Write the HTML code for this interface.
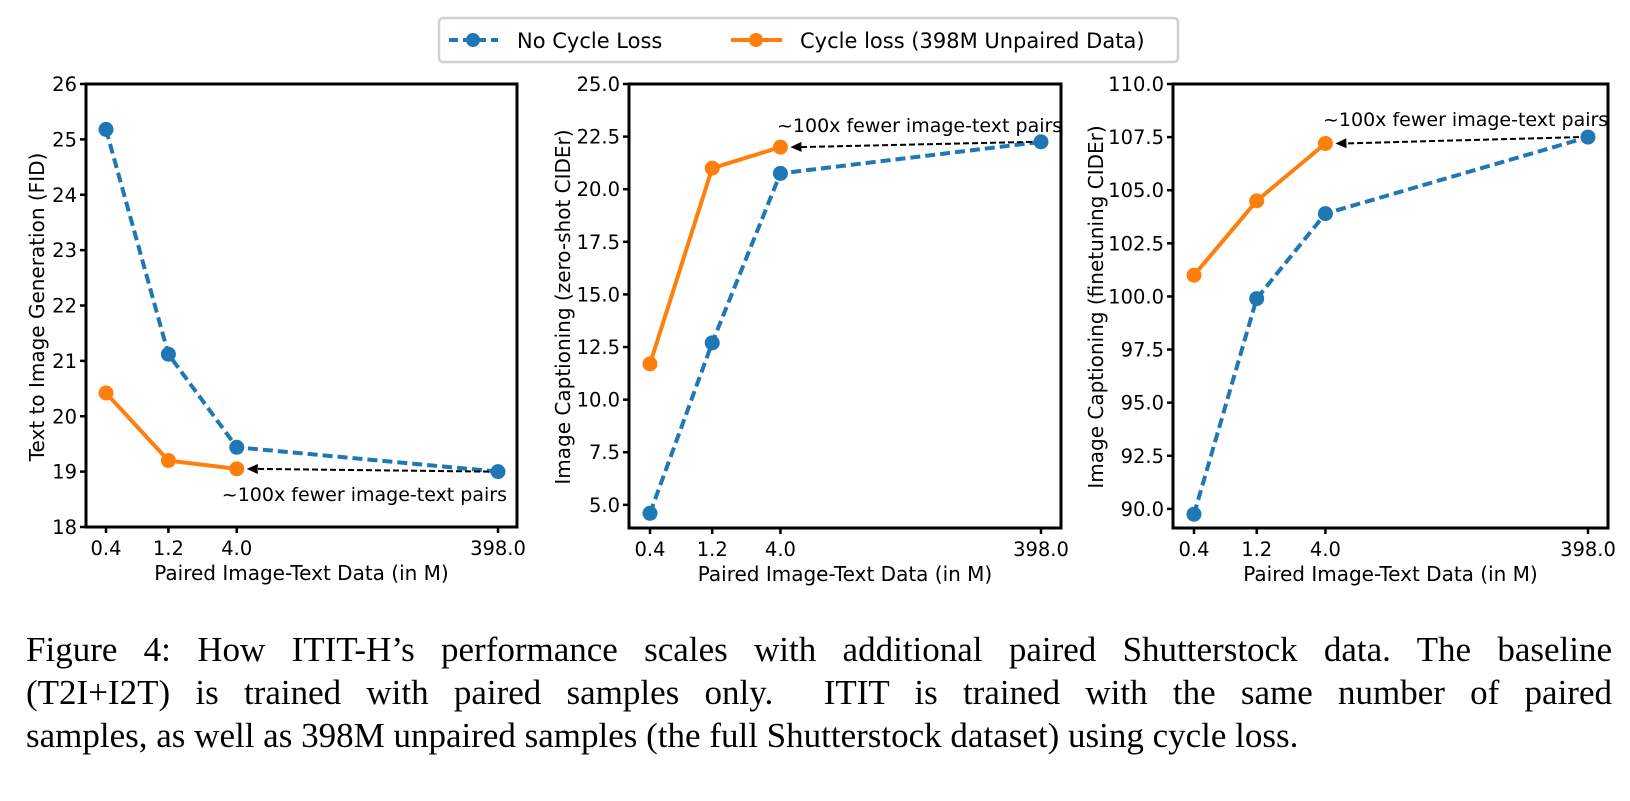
<!DOCTYPE html>
<html><head><meta charset="utf-8">
<style>
html,body{margin:0;padding:0;background:#fff;}
body{width:1630px;height:801px;overflow:hidden;position:relative;}
svg{position:absolute;left:0;top:0;}
.cap{position:absolute;left:26px;width:1586px;font-family:"Liberation Serif",serif;font-size:35px;line-height:43px;color:#000;top:628px;}
.cap div{text-align:justify;text-align-last:justify;white-space:nowrap;}
.cap div.last{text-align-last:left;}
</style></head>
<body>
<svg id="fig" width="1630" height="801" font-family="DejaVu Sans, Liberation Sans, sans-serif">
  <g>
    <rect x="439" y="18" width="739" height="44" rx="4" fill="#fff" stroke="#d0d0d0" stroke-width="2.5"/>
    <line x1="449" y1="40" x2="498" y2="40" stroke="#1f77b4" stroke-width="4" stroke-dasharray="9,5"/>
    <circle cx="473" cy="40" r="7" fill="#1f77b4"/>
    <text x="517" y="48" font-size="21">No Cycle Loss</text>
    <line x1="731" y1="40" x2="782" y2="40" stroke="#ff7f0e" stroke-width="4"/>
    <circle cx="756" cy="40" r="7" fill="#ff7f0e"/>
    <text x="800" y="48" font-size="21">Cycle loss (398M Unpaired Data)</text>
  </g>
</svg>
<div class="cap">
<div>Figure 4: How ITIT-H’s performance scales with additional paired Shutterstock data. The baseline</div>
<div>(T2I+I2T) is trained with paired samples only.&nbsp; ITIT is trained with the same number of paired</div>
<div class="last">samples, as well as 398M unpaired samples (the full Shutterstock dataset) using cycle loss.</div>
</div>
<script>
const xCats = [0.4, 1.2, 4.0, 398.0];
const xTickLabels = ["0.4", "1.2", "4.0", "398.0"];
const fidBlue = [25.18, 21.12, 19.44, 19.0];
const fidOrange = [20.42, 19.2, 19.05];
const zsBlue = [4.6, 12.7, 20.75, 22.25];
const zsOrange = [11.7, 21.0, 22.0];
const ftBlue = [89.75, 99.9, 103.9, 107.5];
const ftOrange = [101.0, 104.5, 107.2];
const fidTicks = [18, 19, 20, 21, 22, 23, 24, 25, 26];
const zsTicks = [5.0, 7.5, 10.0, 12.5, 15.0, 17.5, 20.0, 22.5, 25.0];
const ftTicks = [90.0, 92.5, 95.0, 97.5, 100.0, 102.5, 105.0, 107.5, 110.0];

const NS = "http://www.w3.org/2000/svg";
const svg = document.getElementById('fig');
function mk(tag, attrs, parent){const e=document.createElementNS(NS,tag);for(const k in attrs)e.setAttribute(k,attrs[k]);(parent||svg).appendChild(e);return e;}

const panels = [
 {id:'fid', L:86, R:517, T:84, B:527, x0:106, x1:498, ymin:18, ymax:26, ticks:fidTicks, dec:0, blue:fidBlue, orange:fidOrange,
  ylabel:'Text to Image Generation (FID)', ylx:37, note:{x:507, y:501, anchor:'end'}},
 {id:'zeroshot', L:629, R:1061, T:84, B:528, x0:650, x1:1041, ymin:3.9, ymax:25.0, ticks:zsTicks, dec:1, blue:zsBlue, orange:zsOrange,
  ylabel:'Image Captioning (zero-shot CIDEr)', ylx:563, note:{x:777, y:132, anchor:'start'}},
 {id:'finetune', L:1173, R:1608, T:84, B:528, x0:1194, x1:1588, ymin:89.1, ymax:110.0, ticks:ftTicks, dec:1, blue:ftBlue, orange:ftOrange,
  ylabel:'Image Captioning (finetuning CIDEr)', ylx:1096, note:{x:1323, y:126, anchor:'start'}}
];

panels.forEach(p=>{
  const g = mk('g',{});
  
  
  const lx0=Math.log10(xCats[0]), lx1=Math.log10(xCats[xCats.length-1]);
  const xs = v => p.x0 + (Math.log10(v)-lx0)/(lx1-lx0)*(p.x1-p.x0);
  const ys = v => p.B - (v-p.ymin)/(p.ymax-p.ymin)*(p.B-p.T);
  p.ticks.forEach(t=>{
    const y=ys(t);
    mk('line',{x1:p.L-6,x2:p.L,y1:y,y2:y,stroke:'#000','stroke-width':2.5},g);
    const tx=mk('text',{x:p.L-9,y:y+7,'font-size':19.5,'text-anchor':'end'},g);
    tx.textContent=t.toFixed(p.dec);
    
    
  });
  xCats.forEach((c,i)=>{
    const x=xs(c);
    mk('line',{x1:x,x2:x,y1:p.B,y2:p.B+6,stroke:'#000','stroke-width':2.5},g);
    const tx=mk('text',{x:x,y:p.B+28,'font-size':19.5,'text-anchor':'middle'},g);
    tx.textContent=xTickLabels[i];
    
    
  });
  const xl=mk('text',{x:(p.L+p.R)/2,y:p.B+53,'font-size':20,'text-anchor':'middle'},g);
  xl.textContent='Paired Image-Text Data (in M)';
  
  
  const yl=mk('text',{x:0,y:0,'font-size':20,'text-anchor':'middle',transform:`translate(${p.ylx+7},307) rotate(-90)`},g);
  yl.textContent=p.ylabel;
  
  
  const bpts=p.blue.map((v,i)=>xs(xCats[i]).toFixed(1)+','+ys(v).toFixed(1)).join(' ');
  const bl=mk('polyline',{points:bpts,fill:'none',stroke:'#1f77b4','stroke-width':4,'stroke-dasharray':'10,5'},g);
  
  
  const opts=p.orange.map((v,i)=>xs(xCats[i]).toFixed(1)+','+ys(v).toFixed(1)).join(' ');
  const ol=mk('polyline',{points:opts,fill:'none',stroke:'#ff7f0e','stroke-width':4},g);
  
  
  p.blue.forEach((v,i)=>{
    const c=mk('circle',{cx:xs(xCats[i]),cy:ys(v),r:7.5,fill:'#1f77b4'},g);
    
    
  });
  p.orange.forEach((v,i)=>{
    const c=mk('circle',{cx:xs(xCats[i]),cy:ys(v),r:7.5,fill:'#ff7f0e'},g);
    
    
  });
  const ax1=xs(xCats[3])-9, ay1=ys(p.blue[3]);
  const oi=p.orange.length-1;
  const ax2=xs(xCats[oi])+10, ay2=ys(p.orange[oi]);
  const ar=mk('line',{x1:ax1,y1:ay1,x2:ax2+8,y2:ay2,stroke:'#000','stroke-width':2,'stroke-dasharray':'6,3'},g);
  
  
  const ang=Math.atan2(ay2-ay1,ax2-ax1);
  const hx=ax2, hy=ay2, l=11, w=5;
  const bx=hx-l*Math.cos(ang), by=hy-l*Math.sin(ang);
  mk('polygon',{points:`${hx},${hy} ${bx - w*Math.sin(ang)},${by + w*Math.cos(ang)} ${bx + w*Math.sin(ang)},${by - w*Math.cos(ang)}`,fill:'#000'},g);
  const nt=mk('text',{x:p.note.x,y:p.note.y,'font-size':19,'text-anchor':p.note.anchor},g);
  nt.textContent='~100x fewer image-text pairs';
  
  
  const fr=mk('rect',{x:p.L,y:p.T,width:p.R-p.L,height:p.B-p.T,fill:'none',stroke:'#000','stroke-width':3},g);
  
  
});
</script>
</body></html>
